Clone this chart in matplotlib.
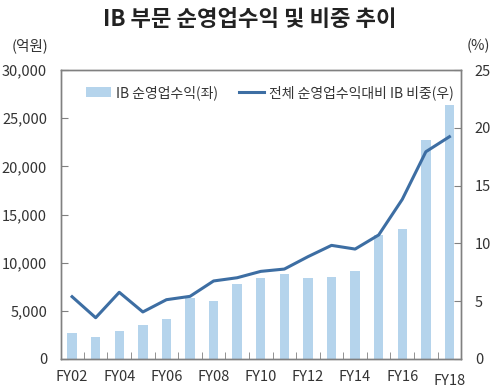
import matplotlib
matplotlib.use("Agg")
import matplotlib.pyplot as plt
import numpy as np

plt.rcParams['font.family'] = ['Noto Sans CJK KR', 'DejaVu Sans']

years = ["FY02", "FY03", "FY04", "FY05", "FY06", "FY07", "FY08", "FY09", "FY10",
         "FY11", "FY12", "FY13", "FY14", "FY15", "FY16", "FY17", "FY18"]
ib_revenue = [2700, 2280, 2870, 3530, 4150, 6330, 5990, 7820, 8410,
              8860, 8440, 8550, 9170, 12880, 13460, 22740, 26400]
ib_share = [5.39, 3.57, 5.77, 4.07, 5.13, 5.42, 6.75, 7.03, 7.58,
            7.78, 8.85, 9.83, 9.51, 10.73, 13.81, 17.93, 19.23]

bar_color = "#b5d4ec"
line_color = "#3d6ea3"
spine_color = "#808080"
text_color = "#333333"

fig = plt.figure(figsize=(5, 3.92), dpi=100)
ax = fig.add_axes([61/500, 1-359/392, 400/500, 289/392])
ax2 = ax.twinx()

x = np.arange(len(years))
b = ax.bar(x, ib_revenue, width=0.4, color=bar_color, zorder=2,
           label="IB 순영업수익(좌)")
l, = ax2.plot(x, ib_share, color=line_color, lw=2.2, zorder=3,
              label="전체 순영업수익대비 IB 비중(우)")

ax.set_xlim(-0.47, len(years) - 1 + 0.49)
ax.set_ylim(0, 30000)
ax2.set_ylim(0, 25)
ax.set_yticks(np.arange(0, 30001, 5000))
ax.set_yticklabels([f"{v:,}" for v in range(0, 30001, 5000)])
ax2.set_yticks(np.arange(0, 26, 5))

ax.set_xticks(x[::2])
ax.set_xticklabels(years[::2])
ax.set_xticks(x[:-1] + 0.5, minor=True)
ax.tick_params(axis='x', which='major', length=0, pad=8, labelsize=10.5, labelcolor=text_color)
ax.tick_params(axis='x', which='minor', direction='in', length=5, color=spine_color)
ax.tick_params(axis='y', direction='in', length=5, color=spine_color, labelsize=10.5,
               labelcolor=text_color, pad=10)
ax2.tick_params(axis='y', direction='in', length=5, color=spine_color, labelsize=10.5,
                labelcolor=text_color, pad=10)
# FY18 label slightly lower
for t in ax.get_xticklabels():
    if t.get_text() == "FY18":
        t.set_y(-0.012)

for a in (ax, ax2):
    for s in a.spines.values():
        s.set_color(spine_color)
        s.set_linewidth(1.0)

fig.text(0.5, 1-20/392, "IB 부문 순영업수익 및 비중 추이", ha='center', va='center',
         fontsize=16, fontweight='bold', color="#222222")
fig.text(30/500, 1-46/392, "(억원)", ha='center', va='center', fontsize=10.5, color=text_color)
fig.text(478/500, 1-46/392, "(%)", ha='center', va='center', fontsize=10.5, color=text_color)

ax2.legend([b, l], [b.get_label(), l.get_label()], loc='upper left', ncol=2, frameon=False,
           bbox_to_anchor=(0.03, 0.99), fontsize=10, handlelength=1.8, columnspacing=1.5,
           handletextpad=0.4, labelcolor=text_color)

fig.savefig("out.png", dpi=100)
